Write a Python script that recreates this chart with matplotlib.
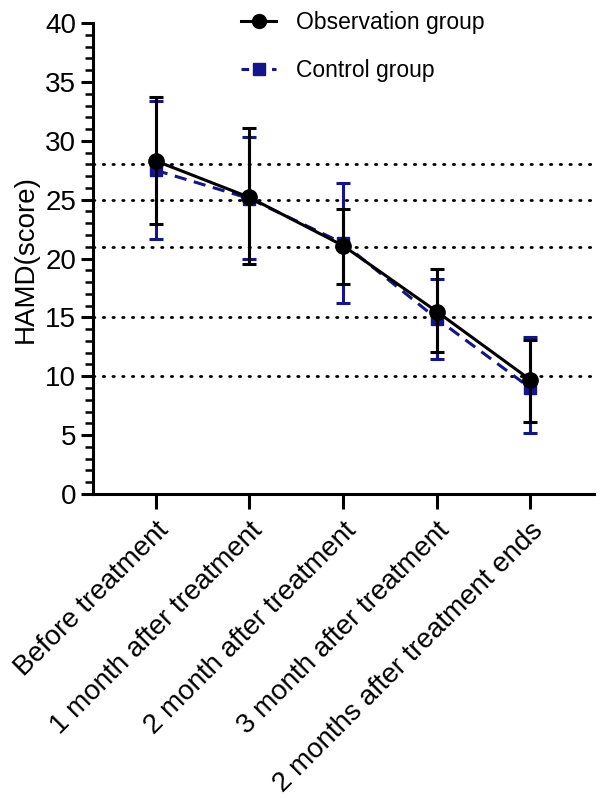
import matplotlib
matplotlib.use("Agg")
import matplotlib.pyplot as plt
import numpy as np
from matplotlib.ticker import MultipleLocator
from matplotlib.lines import Line2D

plt.rcParams['font.family'] = ['Liberation Sans', 'DejaVu Sans']

categories = ['Before treatment', '1 month after treatment', '2 month after treatment',
              '3 month after treatment', '2 months after treatment ends']
obs_mean = [28.3, 25.2, 21.1, 15.5, 9.7]
obs_upper = [33.7, 31.1, 24.2, 19.1, 13.1]
obs_lower = [22.9, 19.5, 17.8, 12.1, 6.1]
ctl_mean = [27.5, 25.1, 21.3, 14.9, 9.0]
ctl_upper = [33.4, 30.3, 26.4, 18.3, 13.3]
ctl_lower = [21.7, 20.0, 16.2, 11.5, 5.2]
ref_lines = [28, 25, 21, 15, 10]

x = np.arange(len(categories))
blue = '#14148c'

fig = plt.figure(figsize=(6, 7.98), dpi=100)
ax = fig.add_axes([0.155, 0.381, 0.835, 0.59])

for r in ref_lines:
    ax.axhline(r, color='black', lw=2, linestyle=(0, (0.5, 3)),
               dash_capstyle='round', zorder=1)

ctl_err = [np.array(ctl_mean) - np.array(ctl_lower), np.array(ctl_upper) - np.array(ctl_mean)]
obs_err = [np.array(obs_mean) - np.array(obs_lower), np.array(obs_upper) - np.array(obs_mean)]

ax.errorbar(x, ctl_mean, yerr=ctl_err, color=blue, ecolor=blue, lw=2.2, ls=(0, (4, 2.5)),
            marker='s', ms=8.5, elinewidth=2.2, capsize=5, capthick=2.2, zorder=2)
ax.errorbar(x, obs_mean, yerr=obs_err, color='black', ecolor='black', lw=2.2, ls='-',
            marker='o', ms=11, elinewidth=2.2, capsize=5, capthick=2.2, zorder=3)

ax.set_xlim(-0.67, 4.68)
ax.set_ylim(0, 40)
ax.yaxis.set_major_locator(MultipleLocator(5))
ax.yaxis.set_minor_locator(MultipleLocator(1))
ax.set_xticks(x)
ax.set_xticklabels(categories, rotation=45, ha='right', rotation_mode='anchor', fontsize=20)
ax.tick_params(axis='y', which='major', length=9, width=2.2, labelsize=20, pad=3)
ax.tick_params(axis='y', which='minor', length=5.5, width=1.8)
ax.tick_params(axis='x', length=11, width=2.2, pad=6)
ax.set_ylabel('HAMD(score)', fontsize=20, labelpad=5)

for s in ['top', 'right']:
    ax.spines[s].set_visible(False)
for s in ['left', 'bottom']:
    ax.spines[s].set_linewidth(2.2)

handles = [Line2D([], [], color='black', lw=2.2, marker='o', ms=10),
           Line2D([], [], color=blue, lw=2.2, ls=(0, (2.5, 2.5)), marker='s', ms=8)]
ax.legend(handles, ['Observation group', 'Control group'], loc='upper left',
          bbox_to_anchor=(0.255, 1.07), frameon=False, fontsize=16.5,
          handlelength=1.5, handletextpad=0.9, labelspacing=1.1)

fig.savefig('out.png', dpi=100)
